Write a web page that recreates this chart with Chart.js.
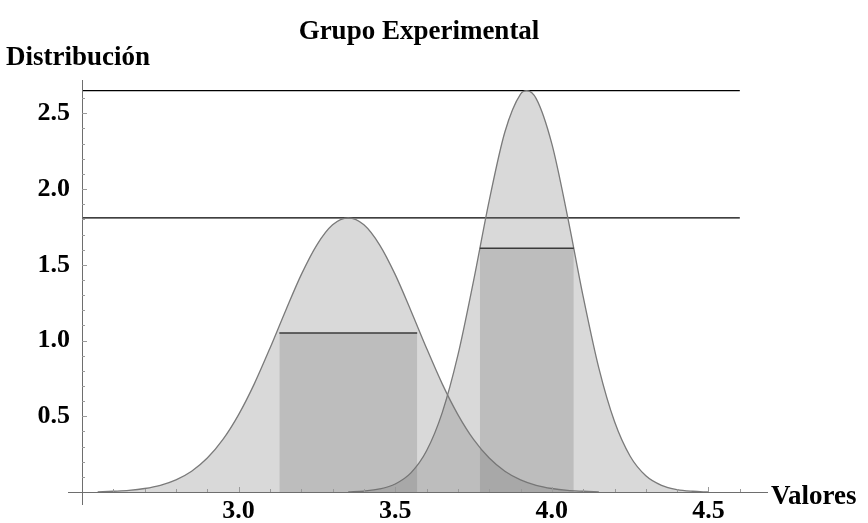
<!DOCTYPE html>
<html>
<head>
<meta charset="utf-8">
<script src="https://cdn.jsdelivr.net/npm/chart.js@4.4.1/dist/chart.umd.min.js"></script>
<style>
  html, body { margin: 0; padding: 0; background: #fff; }
  #wrap { width: 868px; height: 523px; position: relative; }
</style>
</head>
<body>
<div id="wrap"><canvas id="chart"></canvas></div>
<script>
// ── Data ───────────────────────────────────────────────────
const curve1X = [2.55, 2.6, 2.65, 2.7, 2.75, 2.8, 2.85, 2.9, 2.95, 3.0, 3.05, 3.1, 3.15, 3.2, 3.25, 3.3, 3.35,
  3.4, 3.45, 3.5, 3.55, 3.6, 3.65, 3.7, 3.75, 3.8, 3.85, 3.9, 3.95, 4.0, 4.05, 4.1, 4.15];
const curve1Y = [0.0, 0.005, 0.011, 0.023, 0.044, 0.08, 0.137, 0.224, 0.347, 0.511, 0.714, 0.949, 1.197, 1.435, 1.632, 1.764, 1.81,
  1.764, 1.632, 1.435, 1.197, 0.949, 0.714, 0.511, 0.347, 0.224, 0.137, 0.08, 0.044, 0.023, 0.011, 0.005, 0.0];

const curve2X = [3.35, 3.4, 3.45, 3.5, 3.55, 3.6, 3.65, 3.7, 3.75, 3.8, 3.85, 3.9, 3.92,
  3.95, 4.0, 4.05, 4.1, 4.15, 4.2, 4.25, 4.3, 4.35, 4.4, 4.45, 4.5];
const curve2Y = [0.0, 0.006, 0.02, 0.053, 0.126, 0.272, 0.524, 0.903, 1.394, 1.924, 2.377, 2.627, 2.65,
  2.597, 2.298, 1.82, 1.29, 0.818, 0.465, 0.236, 0.107, 0.044, 0.016, 0.005, 0.0];

// central bands (rectangles)
const band1X = [3.13, 3.57];
const band1Y = [1.05, 1.05];
const band2X = [3.77, 4.07];
const band2Y = [1.61, 1.61];

// reference lines at the two peaks
const peakLines = [2.65, 1.81];
const peakLineX = [2.5, 4.6];

const xTickLabels = [3.0, 3.5, 4.0, 4.5];
const yTickLabels = [0.5, 1.0, 1.5, 2.0, 2.5];
const xMinorTicks = [2.6, 2.7, 2.8, 2.9, 3.1, 3.2, 3.3, 3.4, 3.6, 3.7, 3.8, 3.9, 4.1, 4.2, 4.3, 4.4, 4.6];
const yMinorTicks = [0.1, 0.2, 0.3, 0.4, 0.6, 0.7, 0.8, 0.9, 1.1, 1.2, 1.3, 1.4, 1.6, 1.7, 1.8, 1.9, 2.1, 2.2, 2.3, 2.4, 2.6];

const FONT = "'Liberation Serif', 'Times New Roman', serif";
const FILL = "rgba(110,110,110,0.26)";

const toPts = (xs, ys) => xs.map((x, i) => ({ x, y: ys[i] }));

// ── Axes, ticks and axis titles (Mathematica style) ───────
const axesPlugin = {
  id: "mmaAxes",
  afterDraw(chart) {
    const { ctx: c, scales } = chart;
    const xs = scales.x;
    const ys = scales.y;
    const x0 = xs.getPixelForValue(2.5);
    const y0 = ys.getPixelForValue(0);

    c.save();
    c.strokeStyle = "#6e6e6e";
    c.lineWidth = 1;
    c.beginPath();
    c.moveTo(x0 - 14, y0 + 0.5);
    c.lineTo(xs.right, y0 + 0.5);
    c.moveTo(x0 + 0.5, y0 + 13);
    c.lineTo(x0 + 0.5, ys.top);
    c.stroke();

    c.strokeStyle = "#9a9a9a";
    c.beginPath();
    xTickLabels.forEach((v) => {
      const px = Math.round(xs.getPixelForValue(v)) + 0.5;
      c.moveTo(px, y0);
      c.lineTo(px, y0 - 5);
    });
    xMinorTicks.forEach((v) => {
      const px = Math.round(xs.getPixelForValue(v)) + 0.5;
      c.moveTo(px, y0);
      c.lineTo(px, y0 - 3);
    });
    yTickLabels.forEach((v) => {
      const py = Math.round(ys.getPixelForValue(v)) + 0.5;
      c.moveTo(x0, py);
      c.lineTo(x0 + 5, py);
    });
    yMinorTicks.forEach((v) => {
      const py = Math.round(ys.getPixelForValue(v)) + 0.5;
      c.moveTo(x0, py);
      c.lineTo(x0 + 3, py);
    });
    c.stroke();

    c.fillStyle = "#000";
    c.font = `bold 27px ${FONT}`;
    c.textBaseline = "alphabetic";
    c.textAlign = "center";
    c.fillText("Grupo Experimental", 419, 39);
    c.textAlign = "left";
    c.fillText("Distribución", 6, 65);
    c.fillText("Valores", 771, 504);
    c.restore();
  },
};

const datasets = [
  {
    data: toPts(band1X, band1Y),
    borderColor: "#3a3a3a",
    borderWidth: 1.5,
    backgroundColor: FILL,
    fill: "origin",
    tension: 0,
  },
  {
    data: toPts(band2X, band2Y),
    borderColor: "#3a3a3a",
    borderWidth: 1.5,
    backgroundColor: FILL,
    fill: "origin",
    tension: 0,
  },
  {
    data: toPts(curve1X, curve1Y),
    borderColor: "#7a7a7a",
    borderWidth: 1.3,
    backgroundColor: FILL,
    fill: "origin",
    cubicInterpolationMode: "monotone",
  },
  {
    data: toPts(curve2X, curve2Y),
    borderColor: "#7a7a7a",
    borderWidth: 1.3,
    backgroundColor: FILL,
    fill: "origin",
    cubicInterpolationMode: "monotone",
  },
];

peakLines.forEach((v) => {
  datasets.push({
    data: toPts(peakLineX, [v, v]),
    borderColor: "#000",
    borderWidth: 1.2,
    fill: false,
    tension: 0,
  });
});

new Chart(document.getElementById("chart"), {
  type: "line",
  data: { datasets },
  options: {
    responsive: true,
    maintainAspectRatio: false,
    animation: false,
    layout: { padding: { top: 80, right: 100, bottom: 0, left: 0 } },
    elements: { point: { radius: 0, hoverRadius: 0 } },
    plugins: {
      legend: { display: false },
      tooltip: { enabled: false },
    },
    scales: {
      x: {
        type: "linear",
        min: 2.5,
        max: 4.69,
        grid: { display: false },
        border: { display: false },
        afterBuildTicks: (s) => {
          s.ticks = xTickLabels.map((value) => ({ value }));
        },
        afterFit: (s) => {
          s.height = 31;
        },
        ticks: {
          padding: -4,
          color: "#000",
          maxRotation: 0,
          autoSkip: false,
          font: { family: FONT, size: 26, weight: "bold" },
          callback: (v) => Number(v).toFixed(1),
        },
      },
      y: {
        type: "linear",
        min: 0,
        max: 2.72,
        grid: { display: false },
        border: { display: false },
        afterBuildTicks: (s) => {
          s.ticks = yTickLabels.map((value) => ({ value }));
        },
        afterFit: (s) => {
          s.width = 82;
        },
        ticks: {
          padding: 4,
          color: "#000",
          autoSkip: false,
          font: { family: FONT, size: 26, weight: "bold" },
          callback: (v) => Number(v).toFixed(1),
        },
      },
    },
  },
  plugins: [axesPlugin],
});
</script>
</body>
</html>
